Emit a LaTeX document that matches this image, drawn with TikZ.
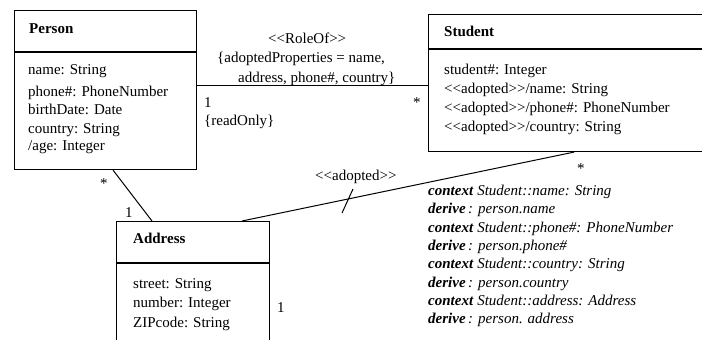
\documentclass[tikz,border=0pt]{standalone}
\usepackage{fontspec}
\setmainfont{Liberation Serif}
% doubled angle brackets, kept apart so they do not merge into guillemets
\newcommand\stl{<\kern0pt<}
\newcommand\stg{>\kern0pt>}
\begin{document}
\begin{tikzpicture}[x=1pt,y=-1pt,
  classbox/.style={draw,line width=1.1pt,rectangle,inner sep=0pt,anchor=north west},
  conn/.style={line width=1pt},
  txt/.style={anchor=base west,inner sep=0pt,font=\fontsize{15}{18}\selectfont},
  head/.style={txt,font=\fontsize{15}{18}\selectfont\bfseries}]
\useasboundingbox (0,0) rectangle (702,340);
\clip (0,0) rectangle (702,340);

% class rectangles
\node[classbox,minimum width=182pt,minimum height=159pt] (person) at (14,10) {};
\node[classbox,minimum width=290pt,minimum height=137pt] (student) at (428,14) {};
\node[classbox,minimum width=153pt,minimum height=140pt] (address) at (116,221) {};

% compartment separators
\draw[line width=1.1pt] (person.west |- 0,52) -- (person.east |- 0,52);
\draw[line width=1.1pt] (student.west |- 0,49) -- (student.east |- 0,49);
\draw[line width=1.1pt] (address.west |- 0,263) -- (address.east |- 0,263);

% class names
\node[head] (personname) at (29,33) {Person};
\node[head] (studentname) at (444,36) {Student};
\node[head] (addressname) at (133,243) {Address};

% Person attributes
\node[txt] (pa1) at (28,74.5) {name: String};
\node[txt] (pa2) at (28,96.5) {phone\#: PhoneNumber};
\node[txt] (pa3) at (28,114) {birthDate: Date};
\node[txt] (pa4) at (28,133) {country: String};
\node[txt] (pa5) at (28,150) {/age: Integer};

% Student attributes
\node[txt] (sa1) at (444,74) {student\#: Integer};
\node[txt] (sa2) at (444,93) {\stl adopted\stg/name: String};
\node[txt] (sa3) at (444,112) {\stl adopted\stg/phone\#: PhoneNumber};
\node[txt] (sa4) at (444,131) {\stl adopted\stg/country: String};

% Address attributes
\node[txt] (aa1) at (133,288) {street: String};
\node[txt] (aa2) at (133,307) {number: Integer};
\node[txt] (aa3) at (133,327) {ZIPcode: String};

% RoleOf association
\coordinate (roley) at (0,85.5);
\draw[conn] (person.east |- roley) -- (student.west |- roley);
\node[txt] (roleof) at (268,43) {\stl RoleOf\stg};
\node[txt] (adprop1) at (217,62) {\{adoptedProperties = name,};
\node[txt] (adprop2) at (238,82) {address, phone\#, country\}};
\node[txt] (rolem1) at (204,107) {1};
\node[txt] (readonly) at (204,125) {\{readOnly\}};
\node[txt] (rolem2) at (413,107) {*};

% Person -- Address association
\coordinate (pax) at (113,0);
\coordinate (apx) at (152,0);
\draw[conn] (person.south -| pax) -- (address.north -| apx);
\node[txt] (pam1) at (100,188) {*};
\node[txt] (pam2) at (125,217) {1};

% adopted Address -- Student link
\coordinate (asx) at (242,0);
\coordinate (sax) at (574,0);
\draw[conn] (address.north -| asx) -- (student.south -| sax);
\coordinate (slashtop) at (353,189);
\coordinate (slashbot) at (342,213);
\draw[conn] (slashtop) -- (slashbot);
\node[txt] (adopted) at (315,180) {\stl adopted\stg};
\node[txt] (asm1) at (577,173) {*};
\node[txt] (asm2) at (277,312) {1};

% OCL derivation rules
\node[txt] (ocl1) at (428,195) {\textbf{\textit{context}} \textit{Student::name: String}};
\node[txt] (ocl2) at (428,213) {\textbf{\textit{derive}}\,\textit{: person.name}};
\node[txt] (ocl3) at (428,232) {\textbf{\textit{context}} \textit{Student::phone\#: PhoneNumber}};
\node[txt] (ocl4) at (428,250) {\textbf{\textit{derive}}\,\textit{: person.phone\#}};
\node[txt] (ocl5) at (428,268) {\textbf{\textit{context}} \textit{Student::country: String}};
\node[txt] (ocl6) at (428,287) {\textbf{\textit{derive}}\,\textit{: person.country}};
\node[txt] (ocl7) at (428,305) {\textbf{\textit{context}} \textit{Student::address: Address}};
\node[txt] (ocl8) at (428,323) {\textbf{\textit{derive}}\,\textit{: person. address}};
\end{tikzpicture}
\end{document}
